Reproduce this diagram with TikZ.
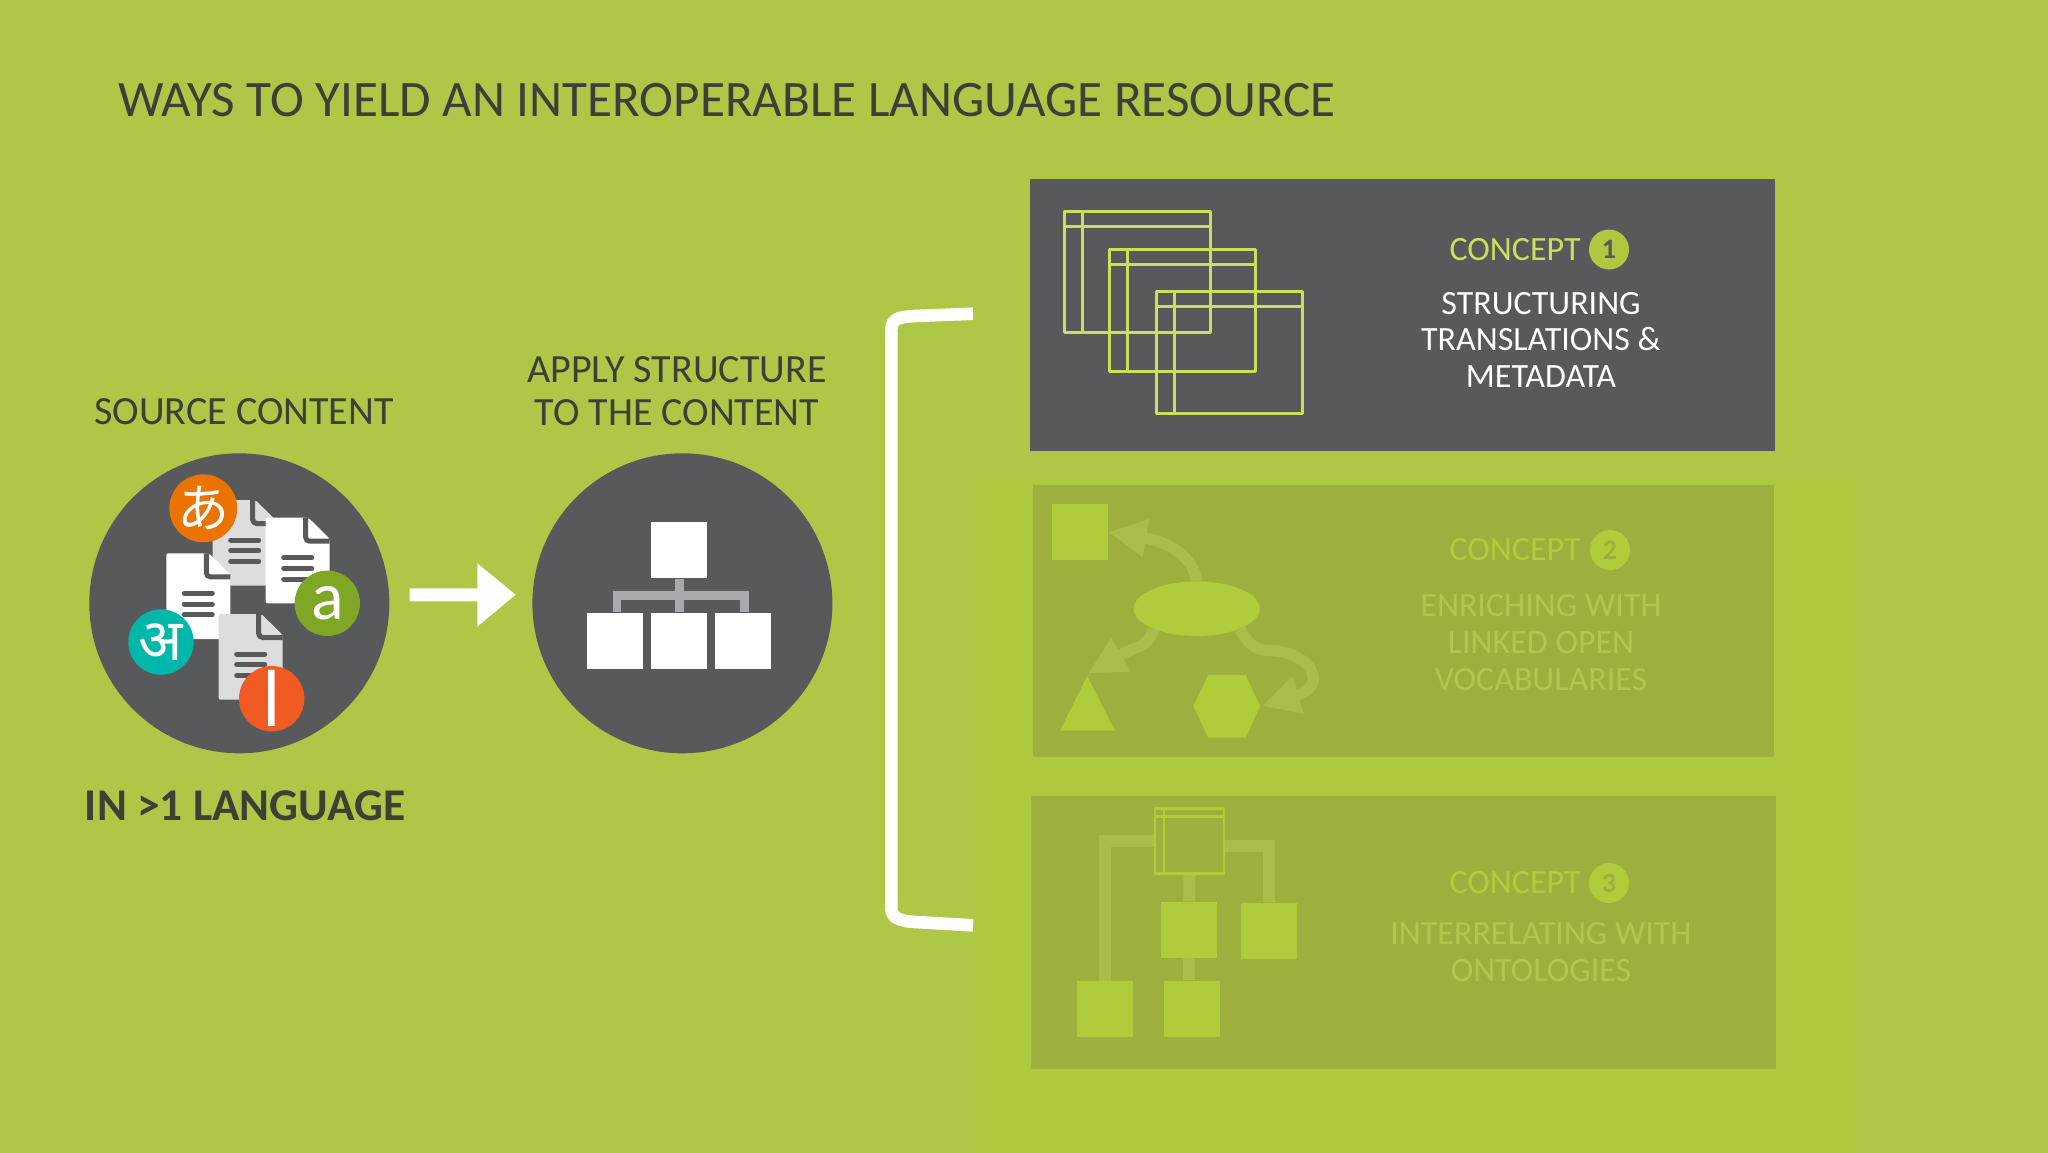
\documentclass[tikz,border=0pt]{standalone}
\usepackage{fontspec}
\setmainfont{Carlito}
\newfontfamily\cjkfont{Noto Sans CJK JP}
\newfontfamily\devafont[Script=Devanagari]{Noto Sans}
\newfontfamily\arabicfont[Script=Arabic]{DejaVu Sans}
\TeXXeTstate=1
\usetikzlibrary{arrows.meta,shapes.geometric,calc}
\definecolor{pagegreen}{HTML}{AFC746}
\definecolor{fadegreen}{HTML}{AEC840}
\definecolor{slate}{HTML}{58595B}
\definecolor{inkdark}{HTML}{3D4035}
\definecolor{panelgreen}{HTML}{9DB03D}
\definecolor{linegreen}{HTML}{C9E05A}
\definecolor{shapegreen}{HTML}{B0CC3A}
\definecolor{linkgreen}{HTML}{A9BD4A}
\definecolor{fadetext}{HTML}{B1C64F}
\definecolor{paper}{HTML}{DCDDDE}
\definecolor{linkgrey}{HTML}{A7A9AC}
\tikzset{
  disc/.style={circle,fill=slate,minimum size=150pt,inner sep=0pt},
  langdisc/.style={circle,text=white,minimum size=32.7pt,inner sep=0pt},
  whitebox/.style={fill=white,minimum width=28pt,minimum height=28pt,inner sep=0pt},
  greenbox/.style={fill=shapegreen,minimum width=28pt,minimum height=28pt,inner sep=0pt},
  toplabel/.style={text=inkdark,align=center,font=\fontsize{20}{21.5}\selectfont},
  conceptlabel/.style={inner sep=0pt,font=\fontsize{17}{18.3}\selectfont},
  bodylabel/.style={align=center,font=\fontsize{17}{18.3}\selectfont},
  numdisc/.style={circle,minimum size=20pt,inner sep=0pt,text=slate,font=\fontsize{14}{14}\selectfont\bfseries},
  grey link/.style={draw=linkgrey,line width=4.2pt},
  green link/.style={draw=linkgreen,line width=6pt},
  curve link/.style={draw=linkgreen,line width=5.6pt,-{Triangle[length=19pt,width=18pt]}},
}
% one sheet of paper, x y fill
\newcommand{\sheeticon}[3]{
  \begin{scope}[shift={(#1,#2)}]
    \fill[#3,rounded corners=1pt] (0,0) -- (42.7,0) -- (64,21) -- (64,85.7) -- (0,85.7) -- cycle;
    \draw[slate,line width=2.5pt,rounded corners=2pt] (40,0) -- (40,23.5) -- (64,23.5);
    \draw[slate,line width=2.5pt,line cap=round] (18,40) -- (46,40);
    \draw[slate,line width=2.5pt,line cap=round] (18,50.7) -- (46,50.7);
    \draw[slate,line width=2.5pt,line cap=round] (18,61.3) -- (46,61.3);
  \end{scope}
}
% small table, x y width height cell colour line width
\newcommand{\tableicon}[8]{
  \draw[#7,line width=#8,line join=round] (#1,#2) rectangle ++(#3,#4);
  \draw[#7,line width=#8] (#1+#5,#2) -- ++(0,#4);
  \draw[#7,line width=#8] (#1,#2+#6) -- ++(#3,0);
}
\begin{document}
\begin{tikzpicture}[x=.5pt,y=-.5pt]
  \useasboundingbox (0,0) rectangle (2048,1152);
  \fill[pagegreen] (-6,-6) rectangle (2054,1158);
  \fill[fadegreen] (975,478) rectangle (1856,1158);

  \node[anchor=west,inner sep=0pt,text=inkdark,font=\fontsize{25.55}{28}\selectfont] (title) at (118,100.5)
    {WAYS TO YIELD AN INTEROPERABLE LANGUAGE RESOURCE};

  \node[toplabel] (source) at (244,412) {SOURCE CONTENT};
  \node[toplabel] (apply) at (677,391) {APPLY STRUCTURE\\TO THE CONTENT};
  \node[text=inkdark,font=\fontsize{22.7}{24}\selectfont\bfseries] (many) at (245,806) {IN >1 LANGUAGE};

  % source disc
  \node[disc] (srcdisc) at (239.3,603.3) {};
  \sheeticon{212.7}{500}{paper}
  \sheeticon{265.7}{517.7}{white}
  \sheeticon{166.3}{553.3}{white}
  \sheeticon{218.7}{614}{paper}
  \node[langdisc,fill={rgb,255:red,235;green,116;blue,0},font=\fontsize{26}{26}\cjkfont] (kana) at (203.3,508.3) {あ};
  \node[langdisc,fill={rgb,255:red,127;green,166;blue,36},font=\fontsize{34}{34}\selectfont] (latin) at (327.3,603.3) {a};
  \node[langdisc,fill={rgb,255:red,0;green,184;blue,169},font=\fontsize{29}{29}\devafont] (deva) at (161,642) {अ};
  \node[langdisc,fill={rgb,255:red,241;green,90;blue,34},font=\fontsize{37}{37}\arabicfont] (arab) at (271.7,698.7) {\beginR ا\endR};

  % arrow between the discs
  \fill[white] (409.6,588.3) -- (477.3,588.3) -- (477.3,563.3) -- (515.6,594.7)
    -- (477.3,626.7) -- (477.3,601.3) -- (409.6,601.3) -- cycle;

  % structure disc
  \node[disc] (strdisc) at (682.4,603.3) {};
  \node[whitebox] (root) at (679.4,550.3) {};
  \node[whitebox] (leafa) at (615,640.5) {};
  \node[whitebox] (leafb) at (679.4,640.5) {};
  \node[whitebox] (leafc) at (743,640.5) {};
  \draw[grey link] ([xshift=.9pt]leafa.north) -- ++(0,-16.5) -| ([xshift=.7pt]leafc.north);
  \draw[grey link] (root.south) -- (leafb.north);

  % bracket
  \draw[white,line width=6.3pt] (973,313.7) -- (915,316) .. controls (900,317) and (891.3,318) .. (891.3,330)
    -- (891.3,908) .. controls (891.3,918) and (900,921) .. (915,922) -- (973,925.3);

  % concept 1
  \fill[slate] (1030,178.5) rectangle (1775,451);
  \tableicon{1064}{211}{146}{121.7}{18}{15}{linegreen}{1.5pt}
  \tableicon{1109.3}{249.3}{146.4}{121.7}{18}{15}{linegreen}{1.5pt}
  \tableicon{1156}{291.3}{146.3}{122}{18}{15}{linegreen}{1.5pt}
  \node[conceptlabel,text=linegreen,anchor=east] (conceptone) at (1581,249.5) {CONCEPT};
  \node[numdisc,fill=fadegreen] (numone) at (1609,249.5) {1};
  \node[bodylabel,text=white] (bodyone) at (1541,339.6) {STRUCTURING\\TRANSLATIONS \&\\METADATA};

  % concept 2
  \fill[panelgreen] (1032.7,485) rectangle (1774,757.3);
  \node[greenbox] (square) at (1080,532) {};
  \node[ellipse,fill=shapegreen,minimum width=63pt,minimum height=27.3pt,inner sep=0pt] (blob) at (1196.7,608.7) {};
  \fill[shapegreen] (1087.3,676) -- (1115,730.7) -- (1060,730.7) -- cycle;
  \coordinate (triangletop) at (1088,673.5);
  \fill[shapegreen] (1193.3,706) -- (1208.3,675) -- (1245.7,675) -- (1260,706) -- (1245.7,737.7) -- (1208.3,737.7) -- cycle;
  \coordinate (hexright) at (1261.7,706);
  \draw[curve link] (blob.north) .. controls (1193,557) and (1170,542) .. (square.east);
  \draw[curve link] (blob.205) .. controls (1148,648) and (1138,645) .. (triangletop);
  \draw[curve link] (blob.335) .. controls (1252,652) and (1262,650) .. (1277,651)
    .. controls (1312,655) and (1328,686) .. (hexright);
  \node[conceptlabel,text=shapegreen,anchor=east] (concepttwo) at (1581,550) {CONCEPT};
  \node[numdisc,fill=shapegreen,text=panelgreen] (numtwo) at (1610,550) {2};
  \node[bodylabel,text=fadetext] (bodytwo) at (1541,642.6) {ENRICHING WITH\\LINKED OPEN\\VOCABULARIES};

  % concept 3
  \fill[panelgreen] (1031,795.7) rectangle (1776,1068.7);
  \node[minimum width=34.5pt,minimum height=32.5pt,inner sep=0pt] (tabletop) at (1189.5,840.8) {};
  \node[greenbox] (boxmid) at (1189.2,929.7) {};
  \node[greenbox] (boxright) at (1269,930.7) {};
  \node[greenbox] (boxleft) at (1105,1009) {};
  \node[greenbox] (boxlow) at (1192,1008.7) {};
  \draw[green link] ([yshift=0pt]tabletop.west) -| (boxleft.north);
  \draw[green link] ([yshift=-2.8pt]tabletop.east) -| (boxright.north);
  \draw[green link] (tabletop.south) -- (boxmid.north);
  \draw[green link] (boxmid.south) -- (boxmid.south |- boxlow.north);
  \tableicon{1155}{808.3}{69}{65}{9}{8}{shapegreen}{1.2pt}
  \node[conceptlabel,text=shapegreen,anchor=east] (conceptthree) at (1581,883) {CONCEPT};
  \node[numdisc,fill=shapegreen,text=panelgreen] (numthree) at (1609,883) {3};
  \node[bodylabel,text=fadetext] (bodythree) at (1541,952) {INTERRELATING WITH\\ONTOLOGIES};
\end{tikzpicture}
\end{document}
